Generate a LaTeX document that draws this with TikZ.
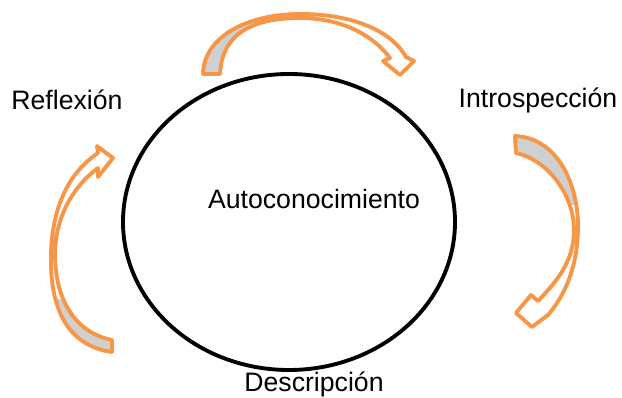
\documentclass[tikz,border=0pt]{standalone}
\usepackage{fontspec}
\usetikzlibrary{shapes.geometric}
\setmainfont{Liberation Sans}
\definecolor{arrorange}{HTML}{F79646}
\definecolor{arrgray}{HTML}{D0D0D0}
\tikzset{
  lbl/.style={font=\fontsize{20}{23}\selectfont, inner sep=0pt},
  arrline/.style={draw=arrorange, line width=2.9pt, line join=round},
}
\begin{document}
\begin{tikzpicture}[x=0.75pt,y=-0.75pt]
\useasboundingbox (0,0) rectangle (622,398);
% central ellipse
\node[draw=black, line width=2.9pt, ellipse, minimum width=249pt, minimum height=222pt, inner sep=0pt] (c) at (289,222) {};
\node[lbl] (auto) at (314,199) {Autoconocimiento};
\node[lbl] (refl) at (67,100) {Reflexión};
\node[lbl] (intro) at (538,100) {Introspección};
\node[lbl] (desc) at (314,384) {Descripción};
% top arrow
\def\toparrpath{(203,74) .. controls (204,35) and (250,14) .. (300,14) .. controls (355,14) and (392,32) .. (406,57) -- (414,61) -- (400,75) -- (383,61) -- (390,58) .. controls (372,34) and (340,18) .. (300,18) .. controls (255,18) and (222,32) .. (220,74) -- cycle}
\fill[white] \toparrpath;
\begin{scope}\clip (190,0) rectangle (262,90); \fill[arrgray] \toparrpath; \end{scope}
\draw[arrline] \toparrpath;
% right arrow
\def\rarrpath{(515,136) .. controls (558,138) and (579,185) .. (578,230) .. controls (577,268) and (565,295) .. (548,315) -- (532,327) -- (516,313) -- (531,295) -- (538,301) .. controls (556,282) and (574,262) .. (574,230) .. controls (574,195) and (548,160) .. (516,153) -- cycle}
\fill[white] \rarrpath;
\begin{scope}\clip (500,120) rectangle (600,205); \fill[arrgray] \rarrpath; \end{scope}
\draw[arrline] \rarrpath;
% left arrow
\def\larrpath{(112,352) .. controls (62,345) and (50,300) .. (51,255) .. controls (52,205) and (70,172) .. (98,153) -- (97,146) -- (113,158) -- (98,177) -- (98,168) .. controls (75,185) and (55,215) .. (55,255) .. controls (55,295) and (72,332) .. (112,340) -- cycle}
\fill[white] \larrpath;
\begin{scope}\clip (30,300) rectangle (130,370); \fill[arrgray] \larrpath; \end{scope}
\draw[arrline] \larrpath;
\end{tikzpicture}
\end{document}
